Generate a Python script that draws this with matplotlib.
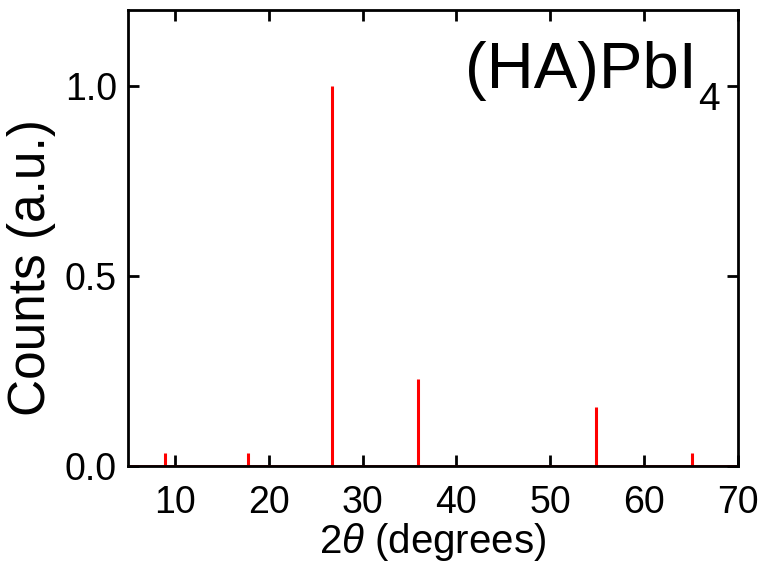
import matplotlib
matplotlib.use('Agg')
import matplotlib.pyplot as plt

# peak positions (2theta) and normalised intensities
two_theta = [8.9, 17.8, 26.7, 35.9, 54.9, 65.1]
counts = [0.035, 0.035, 1.0, 0.23, 0.156, 0.035]
xticks = [10, 20, 30, 40, 50, 60, 70]
yticks = [0.0, 0.5, 1.0]

plt.rcParams['font.family'] = ['Liberation Sans', 'DejaVu Sans']
plt.rcParams['mathtext.fontset'] = 'custom'
plt.rcParams['mathtext.rm'] = 'Liberation Sans'
plt.rcParams['mathtext.it'] = 'Liberation Sans:italic'

fig = plt.figure(figsize=(7.67, 5.81), dpi=100)
ax = fig.add_axes([0.167, 0.198, 0.795, 0.785])

ax.plot([5, 70], [0, 0], color='red', lw=1.2)
ax.vlines(two_theta, 0, counts, color='red', lw=2.2)

ax.set_xlim(5, 70)
ax.set_ylim(0, 1.2)
ax.set_xticks(xticks)
ax.set_yticks(yticks)
ax.set_yticklabels(['%.1f' % v for v in yticks])
ax.tick_params(direction='in', length=8, width=2, labelsize=27,
               top=True, right=True)
ax.tick_params(axis='x', pad=14)
ax.tick_params(axis='y', pad=8)
for s in ax.spines.values():
    s.set_linewidth(2)

ax.set_xlabel(r'2$\theta$ (degrees)', fontsize=29, labelpad=0)
ax.set_ylabel('Counts (a.u.)', fontsize=37)
ax.yaxis.set_label_coords(-0.118, 0.434)

# formula label, with a low subscript
ax.text(0.933, 0.829, '(HA)PbI', transform=ax.transAxes,
        fontsize=47, ha='right', va='baseline')
ax.text(0.970, 0.781, '4', transform=ax.transAxes,
        fontsize=28, ha='right', va='baseline')

fig.savefig('out.png', dpi=100)
